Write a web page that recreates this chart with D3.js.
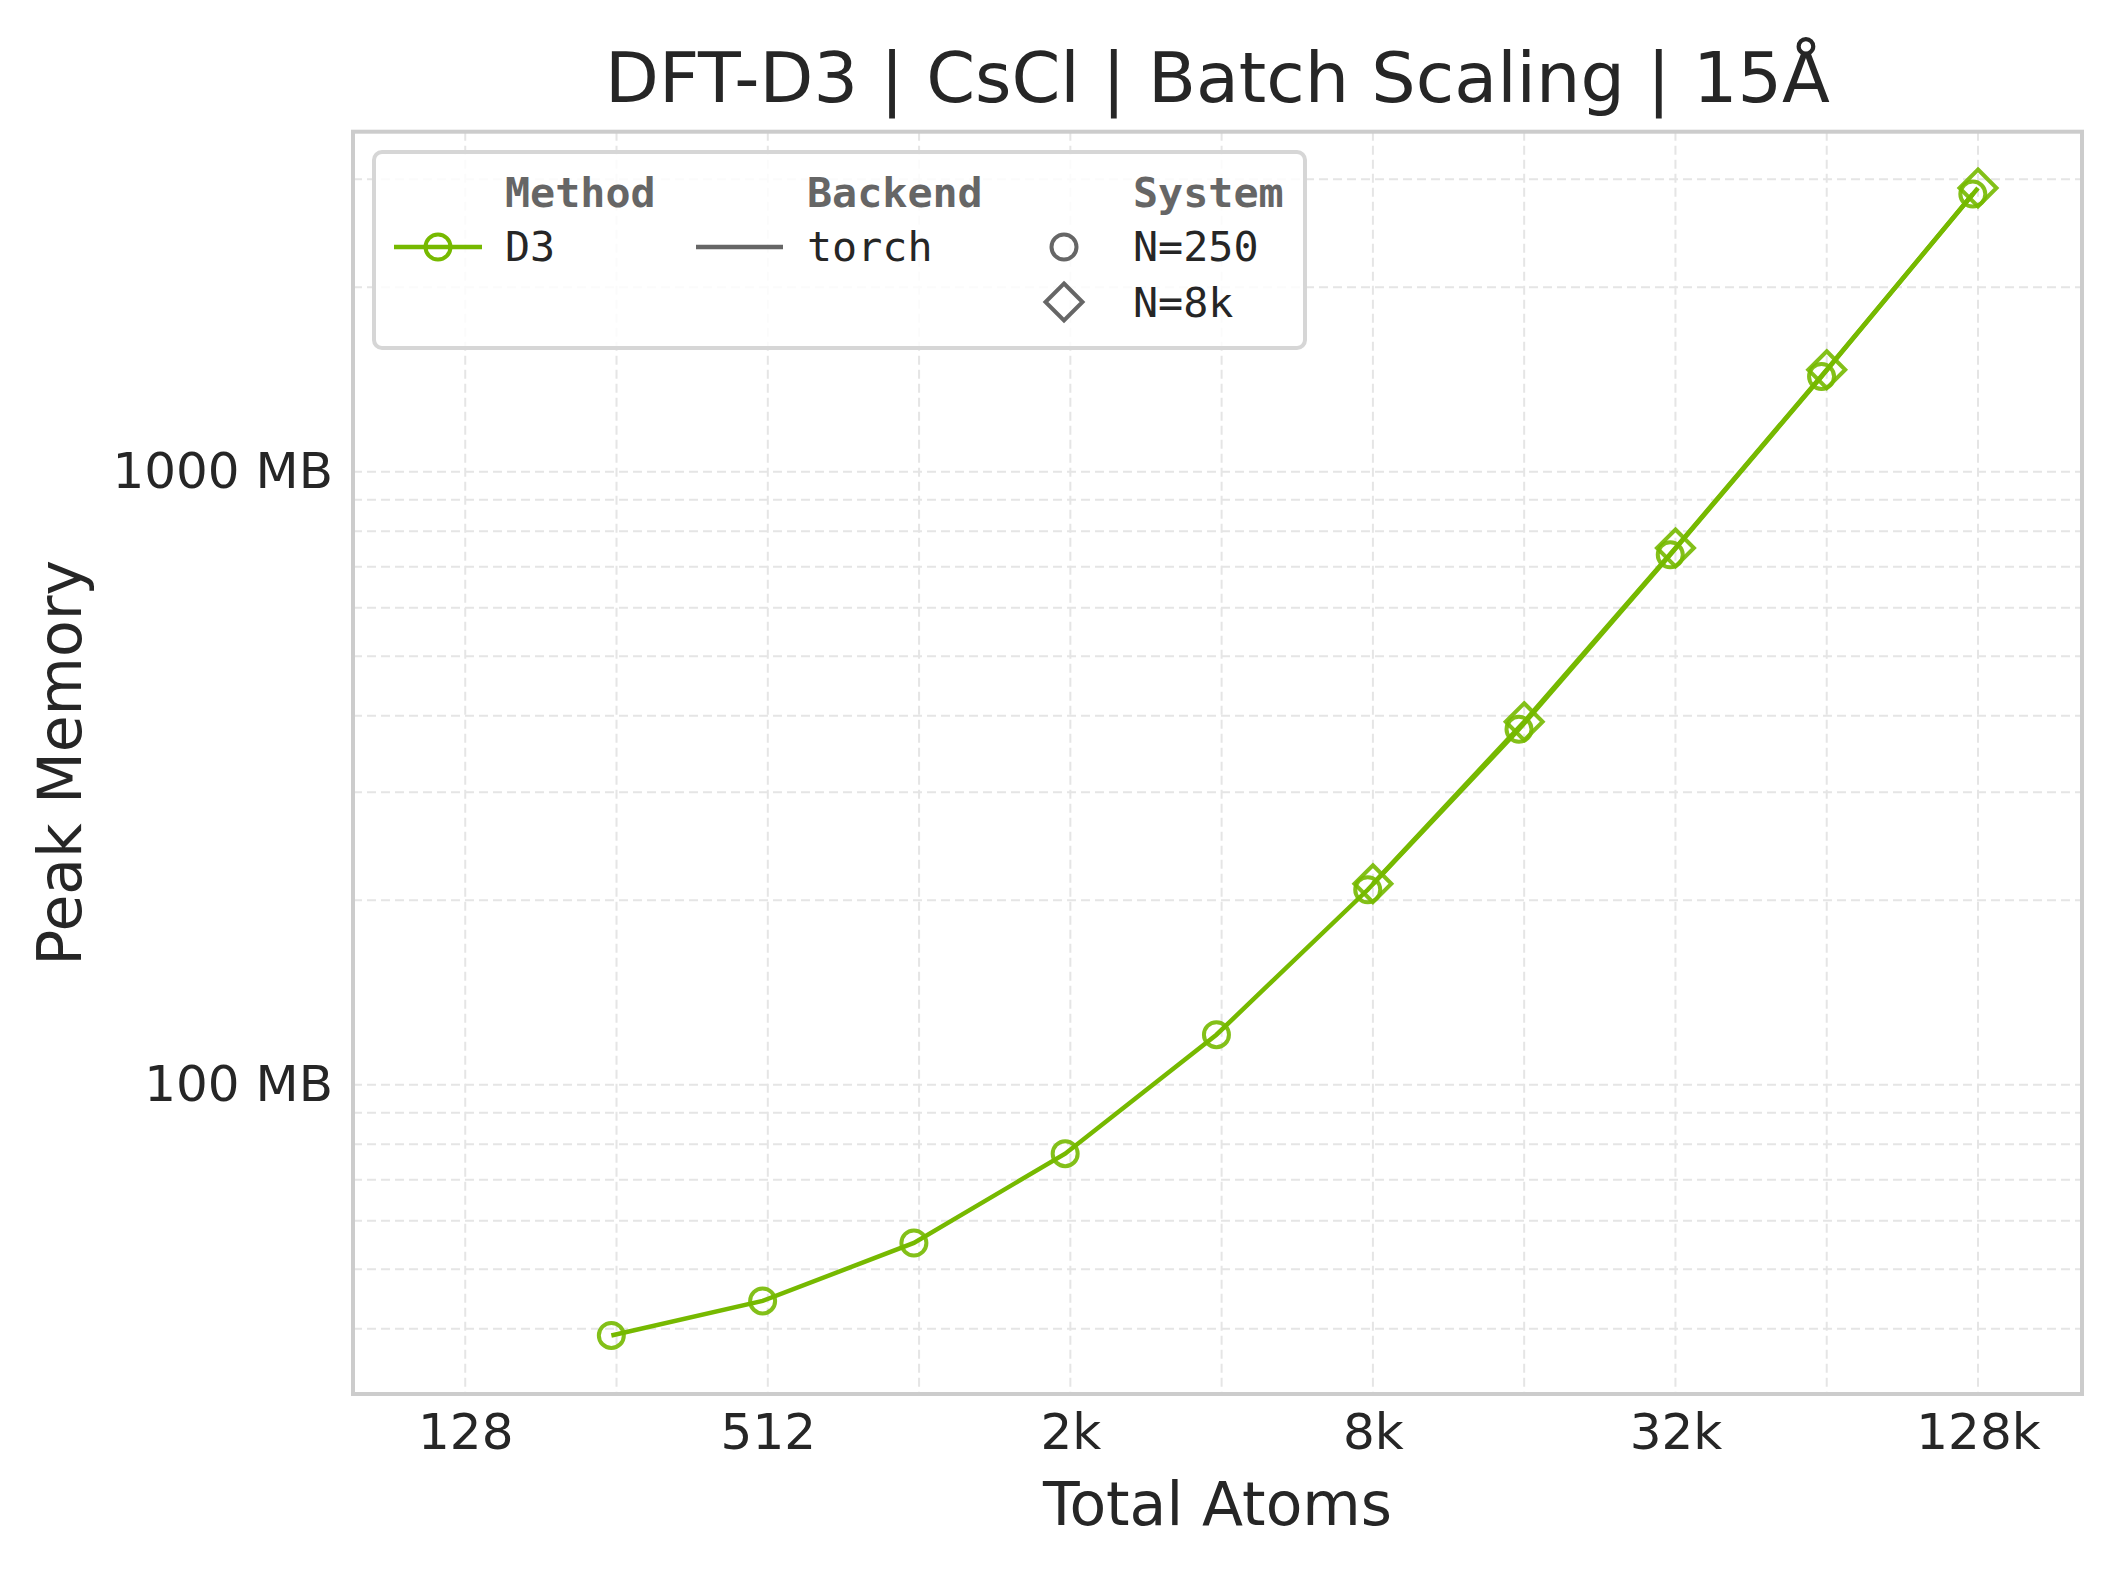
<!DOCTYPE html>
<html>
<head>
<meta charset="utf-8">
<script src="https://cdn.jsdelivr.net/npm/d3@7"></script>
<style>
  body { margin: 0; background: #fff; }
  text { font-family: "DejaVu Sans", sans-serif; }
  .mono { font-family: "DejaVu Sans Mono", monospace; }
</style>
</head>
<body>
<div id="chart"></div>
<script>
// data
const atoms250 = [250, 500, 1000, 2000, 4000, 8000, 16000, 32000, 64000, 128000];
const mem250 = [39.0, 44.4, 55.2, 77.2, 120.7, 208, 380, 732, 1430, 2838];
const atoms8k = [8192, 16384, 32768, 65536, 131072];
const mem8k = [212.8, 391, 751, 1467, 2903];

const xTicks = [128, 512, 2048, 8192, 32768, 131072];
const xTickLabels = ["128", "512", "2k", "8k", "32k", "128k"];
const yTicks = [100, 1000];
const yTickLabels = ["100 MB", "1000 MB"];
const xGrid = [128, 256, 512, 1024, 2048, 4096, 8192, 16384, 32768, 65536, 131072];
const yGrid = [40, 50, 60, 70, 80, 90, 100, 200, 300, 400, 500, 600, 700, 800, 900, 1000, 2000, 3000];

const W = 2118, H = 1574;
const plotL = 353, plotR = 2082, plotT = 131.7, plotB = 1394;
const green = "#76b900";

const svg = d3.select("#chart").append("svg")
  .attr("width", W).attr("height", H);

const x = d3.scaleLog().base(2)
  .domain([Math.pow(2, 6.258), Math.pow(2, 17.6875)])
  .range([plotL, plotR]);
const y = d3.scaleLog()
  .domain([31.3, 3587])
  .range([plotB, plotT]);

// grid
const grid = svg.append("g")
  .attr("stroke", "#e5e5e5").attr("stroke-width", 2)
  .attr("stroke-dasharray", "9,5");
grid.selectAll(".gx").data(xGrid).join("line")
  .attr("x1", d => x(d)).attr("x2", d => x(d))
  .attr("y1", plotT).attr("y2", plotB);
grid.selectAll(".gy").data(yGrid).join("line")
  .attr("x1", plotL).attr("x2", plotR)
  .attr("y1", d => y(d)).attr("y2", d => y(d));

// axes (labels only)
const xAxis = svg.append("g")
  .attr("transform", `translate(0,${plotB})`)
  .call(d3.axisBottom(x).tickValues(xTicks)
    .tickFormat((d, i) => xTickLabels[i]).tickSize(0).tickPadding(19));
xAxis.select(".domain").remove();
xAxis.selectAll("text")
  .attr("font-family", "DejaVu Sans").attr("font-size", 50)
  .attr("fill", "#262626").attr("dy", "0.71em");

const yAxis = svg.append("g")
  .attr("transform", `translate(${plotL},0)`)
  .call(d3.axisLeft(y).tickValues(yTicks)
    .tickFormat((d, i) => yTickLabels[i]).tickSize(0).tickPadding(20));
yAxis.select(".domain").remove();
yAxis.selectAll("text")
  .attr("font-family", "DejaVu Sans").attr("font-size", 50)
  .attr("fill", "#262626");

// series
const line = d3.line().x(d => x(d[0])).y(d => y(d[1]));
const s250 = atoms250.map((a, i) => [a, mem250[i]]);
const s8k = atoms8k.map((a, i) => [a, mem8k[i]]);

svg.append("path").datum(s250)
  .attr("d", line).attr("fill", "none")
  .attr("stroke", green).attr("stroke-width", 4.5);
svg.append("path").datum(s8k)
  .attr("d", line).attr("fill", "none")
  .attr("stroke", green).attr("stroke-width", 4.5);

svg.selectAll(".c250").data(s250).join("circle")
  .attr("cx", d => x(d[0])).attr("cy", d => y(d[1]))
  .attr("r", 12.5).attr("fill", "none")
  .attr("stroke", green).attr("stroke-width", 4).attr("opacity", 0.9);

const diamond = s => `M0,${-s}L${s},0L0,${s}L${-s},0Z`;
svg.selectAll(".d8k").data(s8k).join("path")
  .attr("transform", d => `translate(${x(d[0])},${y(d[1])})`)
  .attr("d", diamond(18.5)).attr("fill", "none")
  .attr("stroke", green).attr("stroke-width", 4).attr("opacity", 0.9);

// legend
const lg = svg.append("g");
lg.append("rect")
  .attr("x", 374).attr("y", 152).attr("width", 931).attr("height", 196)
  .attr("rx", 8).attr("fill", "#fff").attr("fill-opacity", 0.85)
  .attr("stroke", "#d6d6d6").attr("stroke-width", 4);

const hdr = [["Method", 505], ["Backend", 807], ["System", 1133]];
lg.selectAll(".hdr").data(hdr).join("text")
  .attr("class", "mono")
  .attr("x", d => d[1]).attr("y", 207)
  .attr("font-size", 41.7).attr("font-weight", "bold")
  .attr("fill", "#666").text(d => d[0]);

const items = [["D3", 505, 261], ["torch", 807, 261], ["N=250", 1133, 261], ["N=8k", 1133, 317]];
lg.selectAll(".itm").data(items).join("text")
  .attr("class", "mono")
  .attr("x", d => d[1]).attr("y", d => d[2])
  .attr("font-size", 41.7).attr("fill", "#262626").text(d => d[0]);

lg.append("line").attr("x1", 394).attr("x2", 482).attr("y1", 247).attr("y2", 247)
  .attr("stroke", green).attr("stroke-width", 4.5);
lg.append("circle").attr("cx", 438).attr("cy", 247).attr("r", 12.5)
  .attr("fill", "none").attr("stroke", green).attr("stroke-width", 4);
lg.append("line").attr("x1", 696).attr("x2", 783).attr("y1", 247).attr("y2", 247)
  .attr("stroke", "#666").attr("stroke-width", 4.5);
lg.append("circle").attr("cx", 1064).attr("cy", 247).attr("r", 12.5)
  .attr("fill", "none").attr("stroke", "#666").attr("stroke-width", 4);
lg.append("path").attr("transform", "translate(1064,302)").attr("d", diamond(18.5))
  .attr("fill", "none").attr("stroke", "#666").attr("stroke-width", 4);

// spines
svg.append("rect")
  .attr("x", plotL).attr("y", plotT).attr("width", plotR - plotL).attr("height", plotB - plotT)
  .attr("fill", "none").attr("stroke", "#cccccc").attr("stroke-width", 4);

// titles
svg.append("text")
  .attr("x", (plotL + plotR) / 2).attr("y", 101.7)
  .attr("text-anchor", "middle").attr("font-size", 70)
  .attr("fill", "#262626").text("DFT-D3 | CsCl | Batch Scaling | 15Å");
svg.append("text")
  .attr("x", (plotL + plotR) / 2).attr("y", 1525)
  .attr("text-anchor", "middle").attr("font-size", 60)
  .attr("fill", "#262626").text("Total Atoms");
svg.append("text")
  .attr("transform", `translate(81,${(plotT + plotB) / 2}) rotate(-90)`)
  .attr("text-anchor", "middle").attr("font-size", 60)
  .attr("fill", "#262626").text("Peak Memory");
</script>
</body>
</html>
